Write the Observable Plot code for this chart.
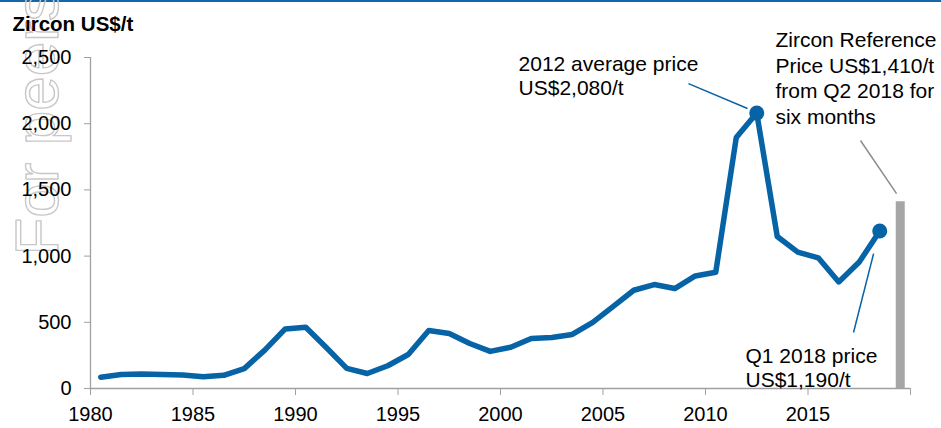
<!DOCTYPE html>
<html><head><meta charset="utf-8">
<script src="https://cdn.jsdelivr.net/npm/d3@7"></script>
<script src="https://cdn.jsdelivr.net/npm/@observablehq/plot@0.6"></script>
<style>body{margin:0;background:#fff}</style>
</head><body><div id="chart"></div>
<script>
const years = [1980,1981,1982,1983,1984,1985,1986,1987,1988,1989,1990,1991,1992,1993,1994,1995,1996,1997,1998,1999,2000,2001,2002,2003,2004,2005,2006,2007,2008,2009,2010,2011,2012,2013,2014,2015,2016,2017,2018];
const prices = [85,105,110,105,102,88,100,150,290,450,462,310,152,113,172,257,438,415,340,280,312,377,385,408,500,620,742,785,755,850,878,1895,2080,1148,1030,987,805,955,1190];
const highlightYears = [2012, 2018];
const referenceYear = [2019.5];
const referencePrice = [1410];
const xTicks = [1980,1985,1990,1995,2000,2005,2010,2015,2020];
const yTicks = [0,500,1000,1500,2000,2500];
const titleText = "Zircon US$/t";
const watermarkText = "For peers";
const noteTexts = ["2012 average price\nUS$2,080/t", "Zircon Reference\nPrice US$1,410/t\nfrom Q2 2018 for\nsix months", "Q1 2018 price\nUS$1,190/t"];
const noteX = [2000.88, 2013.41, 2011.95];
const noteY = [2213, 2001, 15];
const noteLineHeight = [1.19, 1.21, 1.14];
const leaderX1 = [2009.17, 2017.56, 2018.2];
const leaderY1 = [2303, 1873, 1019];
const leaderX2 = [2012.05, 2019.32, 2017.22];
const leaderY2 = [2115, 1472, 423];
const leaderColor = ["#0563a6", "#8c8c8c", "#0563a6"];

const blue = "#0563a6";
const axisGrey = "#a0a0a0";
const data = years.map((year, i) => ({year, price: prices[i]}));
const highlights = data.filter(d => highlightYears.includes(d.year));
const bar = referenceYear.map((x, i) => ({x, y: referencePrice[i]}));
const leaders = leaderX1.map((x1, i) => ({x1, y1: leaderY1[i], x2: leaderX2[i], y2: leaderY2[i], color: leaderColor[i]}));
const notes = noteTexts.map((text, i) => ({text, x: noteX[i], y: noteY[i], lh: noteLineHeight[i]}));

const plot = Plot.plot({
  width: 941, height: 428,
  marginLeft: 90, marginRight: 31, marginTop: 57, marginBottom: 40,
  x: {domain: [1980, 2020]},
  y: {domain: [0, 2500]},
  style: {fontFamily: "'Liberation Sans', Arial, sans-serif", fontSize: "20px", color: "#000", background: "linear-gradient(#1467a9 0 2px, #fff 2px)", overflow: "hidden"},
  marks: [
    Plot.text([watermarkText], {text: d => d, frameAnchor: "top-left", rotate: -90, textAnchor: "start", lineAnchor: "bottom", dx: -33, dy: 198, fontSize: 62, fill: "none", stroke: "#c8c8c8", strokeWidth: 1.4, paintOrder: "fill"}),
    Plot.ruleY([0], {stroke: axisGrey, strokeWidth: 1.3}),
    Plot.ruleX([1980], {stroke: axisGrey, strokeWidth: 1.3}),
    Plot.axisY(yTicks, {tickSize: 6, tickPadding: 13, stroke: axisGrey, fontSize: 20, label: null, tickFormat: d3.format(",")}),
    Plot.axisX(xTicks, {tickSize: 7, tickPadding: 11, stroke: axisGrey, fontSize: 20, label: null, tickFormat: d => d === 2020 ? "" : String(d)}),
    Plot.ruleX(bar, {x: "x", y1: 0, y2: "y", stroke: "#a6a6a6", strokeWidth: 9}),
    Plot.line(data, {x: d => d.year + 0.5, y: "price", stroke: blue, strokeWidth: 5.5, strokeLinejoin: "round"}),
    Plot.dot(highlights, {x: d => d.year + 0.5, y: "price", r: 7.5, fill: blue}),
    Plot.link(leaders, {x1: "x1", y1: "y1", x2: "x2", y2: "y2", stroke: "color", strokeWidth: 1.5}),
    ...notes.map(n => Plot.text([n], {x: "x", y: "y", text: "text", textAnchor: "start", lineAnchor: "bottom", lineHeight: n.lh, fontSize: 21, fill: "#000"})),
    Plot.text([titleText], {text: d => d, frameAnchor: "top-left", textAnchor: "start", lineAnchor: "bottom", dx: -78, dy: -27, fontSize: 20.5, fontWeight: "bold", fill: "#000"})
  ]
});
document.getElementById("chart").append(plot);
</script>
</body></html>
